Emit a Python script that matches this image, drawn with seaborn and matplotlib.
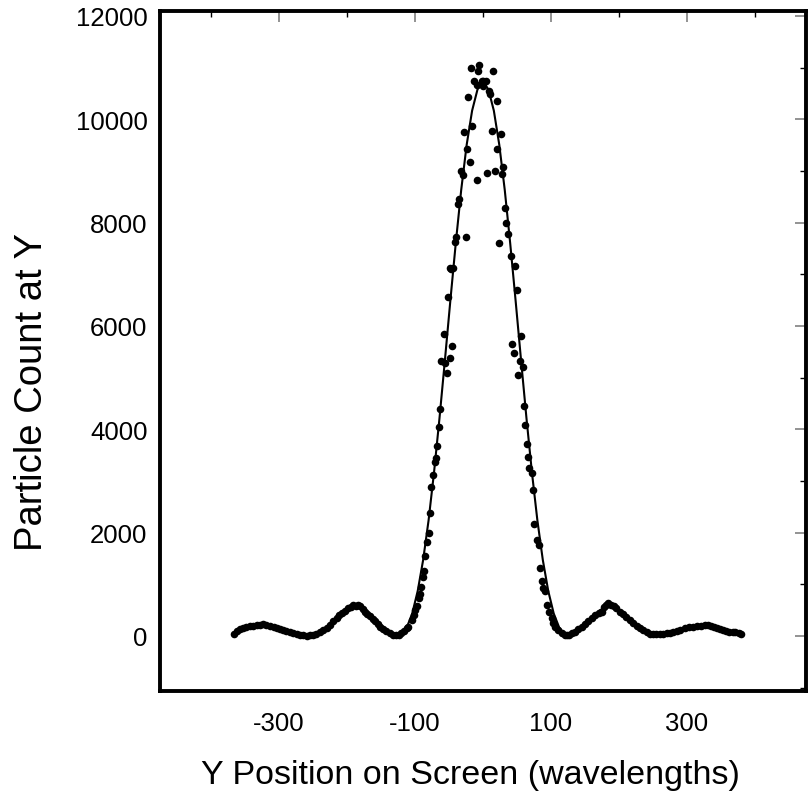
import numpy as np
import pandas as pd
import matplotlib
matplotlib.use("Agg")
import matplotlib.pyplot as plt
import seaborn as sns
from matplotlib.ticker import FixedLocator

# Datos medidos: posicion en pantalla (longitudes de onda) y conteo de particulas
pos_y = [-366, -362, -358, -353, -348, -343, -338, -333, -328, -324, -319, -313,
         -308, -303, -298, -294, -289, -284, -279, -274, -269, -264, -259, -254,
         -250, -245, -240, -235, -230, -225, -220, -215, -211, -208, -203, -198,
         -194, -191, -187, -184, -181, -177, -173, -170, -166, -162, -159, -155,
         -151, -147, -142, -137, -132, -128, -124, -120, -116, -112, -110, -105,
         -101, -100, -97.5, -94.6, -93, -90.7, -88.7, -87, -85, -82, -80, -78,
         -76.5, -73, -71, -69.6, -67, -65, -63, -61, -58, -56, -53, -51, -49, -48,
         -47, -45.6, -43.6, -41.6, -40, -37, -35, -33, -30, -27.5, -25, -24, -21.6,
         -19.6, -17.6, -15.7, -12.8, -9, -9, -7, -5.4, -2, -0.5, 0.5, 4, 6, 9, 11,
         13, 15, 17.6, 20, 21, 23.5, 26, 28, 30, 32, 34, 37, 41, 42.6, 45, 47.5,
         49.5, 51.5, 54, 56, 59, 60, 62, 65, 66, 67.6, 71.6, 73, 75.5, 80, 82, 84,
         87, 88.7, 91, 93.6, 97.5, 101, 103, 106, 111, 116, 120, 123, 127, 131,
         135, 140, 145, 150, 155, 160, 165, 170, 174.5, 178, 181, 184, 188, 192,
         196, 201.5, 206, 211, 216, 221, 226, 231, 236, 241, 246, 250, 255, 260,
         265, 270, 275, 280, 285, 290, 297, 303, 309, 314, 320, 326, 331, 336,
         340, 344, 349, 353, 358, 362, 367, 371, 376, 380]
counts = [30, 90, 130, 160, 180, 190, 200, 205, 215, 235, 205, 185,
          170, 150, 130, 115, 100, 85, 60, 35, 20, 10, 5, 10,
          20, 35, 70, 115, 160, 215, 280, 345, 395, 440, 490, 540,
          560, 600, 580, 600, 575, 530, 470, 430, 380, 330, 285, 230,
          180, 140, 90, 55, 25, 10, 15, 50, 95, 150, 180, 310,
          410, 505, 570, 730, 815, 955, 1140, 1260, 1540, 1810, 1995, 2370,
          2880, 3110, 3365, 3450, 3670, 4045, 4395, 5325, 5850, 5290, 5090, 6560, 7115, 5375,
          7105, 5620, 7125, 7630, 7715, 8350, 8450, 9000, 8915, 9760, 7715, 9425, 10420,
          9165, 11000, 9865, 10730, 10670, 8825, 10940, 11045, 10745, 10635, 10745, 10745, 8960, 10540, 10490,
          9780, 10940, 9000, 10355, 9420, 7600, 9715, 8935, 9070, 8275, 8000, 7775, 7345, 5640, 5480, 7150,
          6700, 5055, 5320, 5800, 5210, 4440, 4085, 3715, 3465, 3255, 3160, 2815, 2170, 1865, 1755, 1315,
          1070, 925, 860, 600, 470, 345, 245, 180, 115, 50, 25, 15, 20, 50,
          85, 130, 180, 230, 280, 345, 410, 450, 470, 560, 600, 635, 590, 570,
          540, 470, 420, 375, 310, 245, 195, 150, 105, 70, 45, 35, 30, 35,
          40, 50, 65, 80, 95, 120, 150, 165, 180, 195, 200, 210, 215, 190,
          170, 150, 130, 115, 95, 85, 75, 70, 55, 30]

# Curva de ajuste (linea continua)
fit_pos = [-366, -352, -338, -324, -310, -296, -282, -268, -256, -244, -232,
           -220, -208, -196, -184, -172, -160, -148, -136, -126, -120, -112, -104,
           -96, -88, -80, -72, -64, -56, -48, -40, -32, -24, -16, -8, 0,
           8, 16, 24, 32, 40, 48, 56, 64, 72, 80, 88, 96, 104, 112, 120, 126,
           136, 148, 160, 172, 184, 196, 208, 220, 232, 244, 256, 268, 282, 296,
           310, 324, 338, 352, 366, 380]
fit_counts = [40, 130, 190, 200, 170, 120, 65, 22, 5, 25, 110,
              260, 420, 530, 565, 500, 350, 190, 65, 5, 30, 165, 435,
              869, 1469, 2236, 3162, 4207, 5333, 6486, 7602, 8633, 9502, 10164, 10578, 10720,
              10578, 10164, 9502, 8633, 7602, 6486, 5333, 4207, 3162, 2236, 1469, 869, 435, 165, 30, 5,
              65, 190, 350, 500, 565, 530, 420, 260, 110, 25, 5, 22, 65, 120,
              170, 200, 190, 130, 80, 40]

x_ticks = [-300, -100, 100, 300]
x_minor = [-400, -200, 0, 200, 400]
y_ticks = [0, 2000, 4000, 6000, 8000, 10000, 12000]
y_minor = [-1000, 1000, 3000, 5000, 7000, 9000, 11000]

puntos = pd.DataFrame({'pos': pos_y, 'count': counts})
ajuste = pd.DataFrame({'pos': fit_pos, 'count': fit_counts})

sns.set_theme(style="white")
plt.rcParams['font.family'] = ['Liberation Sans', 'DejaVu Sans']

fig = plt.figure(figsize=(8.12, 8.03), dpi=100)
ax = fig.add_axes([0.197, 0.138, 0.7956, 0.8468])

sns.lineplot(data=ajuste, x='pos', y='count', color='black', linewidth=1.5,
             estimator=None, sort=False, ax=ax, zorder=2)
sns.scatterplot(data=puntos, x='pos', y='count', color='black', s=30,
                linewidth=0, ax=ax, zorder=3)

ax.set_xlim(-475, 475)
ax.set_ylim(-1070, 12090)

ax.xaxis.set_major_locator(FixedLocator(x_ticks))
ax.xaxis.set_minor_locator(FixedLocator(x_minor))
ax.yaxis.set_major_locator(FixedLocator(y_ticks))
ax.yaxis.set_minor_locator(FixedLocator(y_minor))
ax.set_xticklabels([str(t) for t in x_ticks])
ax.set_yticklabels([str(t) for t in y_ticks])

ax.tick_params(which='major', direction='in', length=8, width=1.2, color='gray',
               top=True, right=True, labelsize=18.5, labelcolor='black')
ax.tick_params(which='minor', direction='in', length=4, width=1, color='black',
               top=True, right=True)
ax.tick_params(axis='x', which='major', pad=14)
ax.tick_params(axis='y', which='major', pad=9)

for s in ax.spines.values():
    s.set_visible(True)
    s.set_color('black')
    s.set_linewidth(2.8)

# Etiquetas de los ejes (un poco desplazadas como en el original)
ax.set_xlabel('Y Position on Screen (wavelengths)', fontsize=24.5, color='black')
ax.set_ylabel('Particle Count at Y', fontsize=27.5, color='black')
ax.xaxis.set_label_coords(0.481, -0.099)
ax.yaxis.set_label_coords(-0.170, 0.441)
ax.grid(False)

fig.savefig('out.png', dpi=100)
plt.close(fig)
